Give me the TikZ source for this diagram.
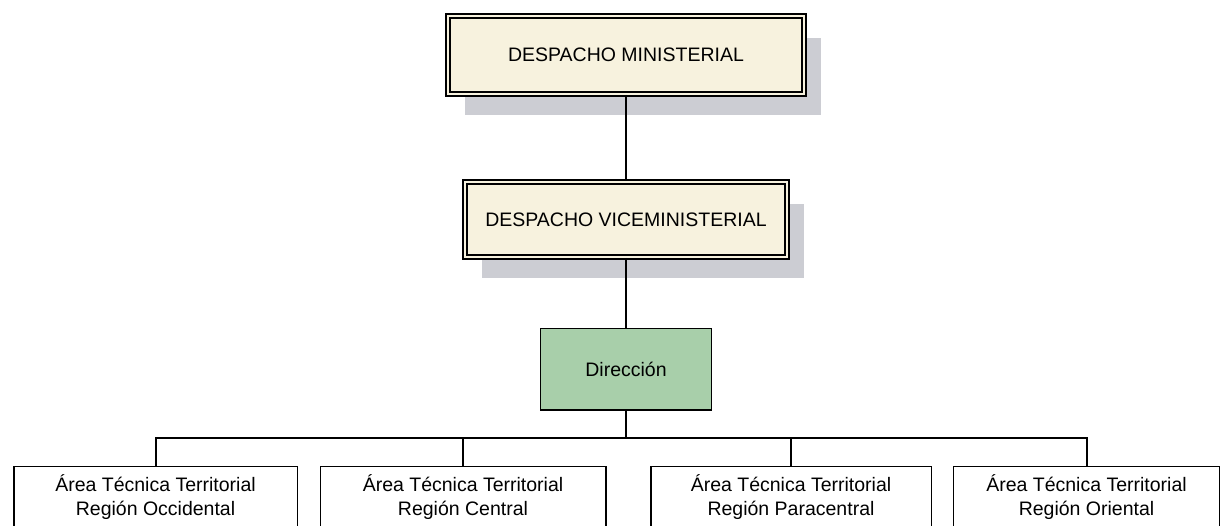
\documentclass[tikz,border=0pt]{standalone}
\usepackage{fontspec}
\setmainfont{Liberation Sans}
\usetikzlibrary{positioning, shadows}

\definecolor{crema}{RGB}{247,242,222}
\definecolor{verde}{RGB}{168,207,170}
\definecolor{sombra}{RGB}{204,205,211}

\begin{document}
\begin{tikzpicture}
		\tikzset{
			oficina/.style={rectangle, draw=black, line width=1pt, double=crema, double distance=1.2pt, fill=crema, inner sep=0pt, text centered, font=\fontsize{9.75}{12}\selectfont, drop shadow={shadow xshift=8.5pt, shadow yshift=-10.75pt, fill=sombra, opacity=1}},
			direc/.style={rectangle, draw=black, line width=0.6pt, fill=verde, inner sep=0pt, minimum width=85.4pt, minimum height=40.9pt, text centered, font=\fontsize{9.75}{12}\selectfont},
			region/.style={rectangle, draw=black, line width=0.75pt, fill=white, inner sep=0pt, minimum height=30.5pt, align=center, font=\fontsize{9.75}{12}\selectfont},
			enlace/.style={draw=black, line width=1pt}
		}
		\useasboundingbox (0,0) rectangle (610pt,-262.5pt);

		\node[oficina, minimum width=177.8pt, minimum height=38.8pt] (despacho) at (313pt,-27.5pt) {DESPACHO MINISTERIAL};
		\node[oficina, minimum width=160.8pt, minimum height=37.3pt, below=43.2pt of despacho] (vicedespacho) {DESPACHO VICEMINISTERIAL};
		\node[direc, below=34.9pt of vicedespacho] (direccion) {Dirección};

		\node[region, minimum width=141.75pt] (occidental) at (77.75pt,-248.6pt) {Área Técnica Territorial\\Región Occidental};
		\node[region, minimum width=142.75pt, right=10.75pt of occidental] (central) {Área Técnica Territorial\\Región Central};
		\node[region, minimum width=140.25pt, right=21.75pt of central] (paracentral) {Área Técnica Territorial\\Región Paracentral};
		\node[region, minimum width=133.25pt, right=10.25pt of paracentral] (oriental) {Área Técnica Territorial\\Región Oriental};

		\draw[enlace] (despacho.south) -- (vicedespacho.north);
		\draw[enlace] (vicedespacho.south) -- (direccion.north);
		\draw[enlace] (direccion.south) -- ++(0,-13.8pt) coordinate (bus);
		\draw[enlace] (bus) -| (occidental.north);
		\draw[enlace] (bus) -| (central.north);
		\draw[enlace] (bus) -| (paracentral.north);
		\draw[enlace] (bus) -| (oriental.north);
	\end{tikzpicture}
\end{document}
